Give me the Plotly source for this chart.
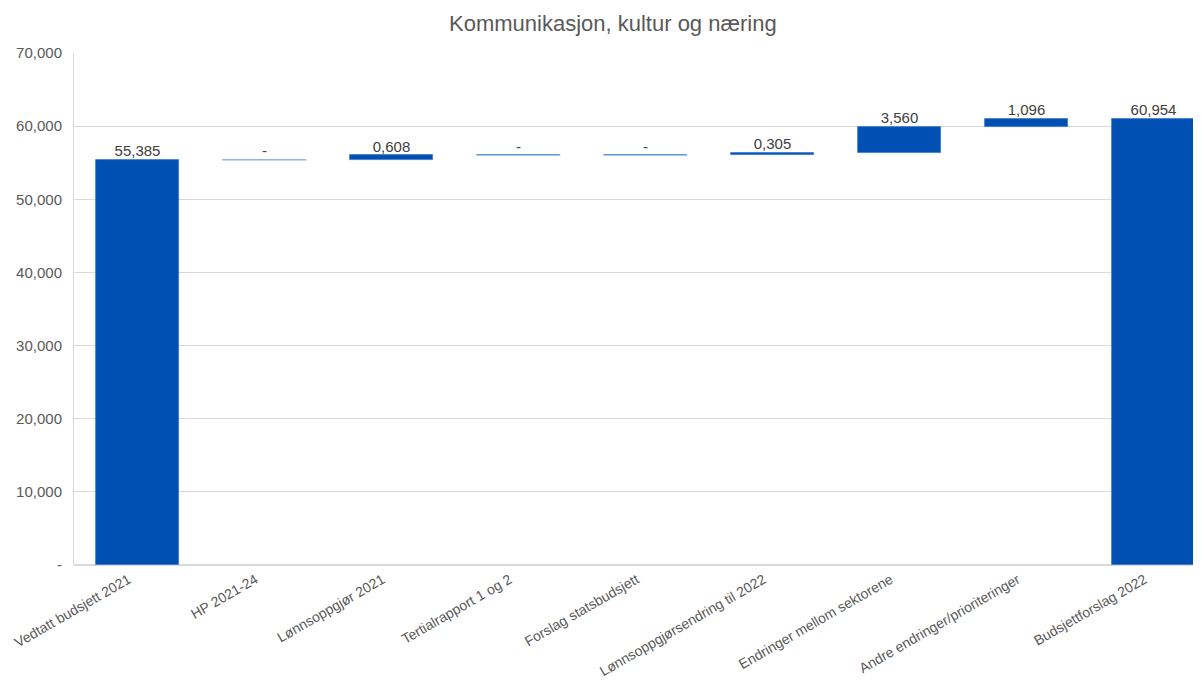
import plotly.graph_objs as go

categories = ['Vedtatt budsjett 2021', 'HP 2021-24', 'Lønnsoppgjør 2021',
              'Tertialrapport 1 og 2', 'Forslag statsbudsjett',
              'Lønnsoppgjørsendring til 2022', 'Endringer mellom sektorene',
              'Andre endringer/prioriteringer', 'Budsjettforslag 2022']
values = [55385, 0, 608, 0, 0, 305, 3560, 1096, 60954]
kinds = ['total', 'delta', 'delta', 'delta', 'delta', 'delta', 'delta', 'delta', 'total']
labels = ['55,385', '-', '0,608', '-', '-', '0,305', '3,560', '1,096', '60,954']

y_ticks = [0, 10000, 20000, 30000, 40000, 50000, 60000, 70000]
y_ticktext = ['-', '10,000', '20,000', '30,000', '40,000', '50,000', '60,000', '70,000']

BLUE = '#0050B4'
LIGHT = '#A8C7EC'
FONT = 'Liberation Sans, Arial, sans-serif'

# running totals for the waterfall
bases, tops = [], []
running = 0
for v, k in zip(values, kinds):
    if k == 'total':
        bases.append(0)
        running = v
    else:
        bases.append(running)
        running += v
    tops.append(bases[-1] + v)

fig = go.Figure()
fig.add_trace(go.Bar(
    x=categories, y=values, base=bases,
    width=0.66,
    marker=dict(color=BLUE, line=dict(color='#3D78C8', width=0.8)),
    hoverinfo='skip'
))

# zero changes are drawn as a thin light line
zero_x = [c for c, v in zip(categories, values) if v == 0]
zero_y = [b for b, v in zip(bases, values) if v == 0]
fig.add_trace(go.Scatter(
    x=zero_x, y=zero_y, mode='markers',
    marker=dict(symbol='line-ew', size=60,
                line=dict(color=LIGHT, width=1.3)),
    hoverinfo='skip'
))

fig.add_trace(go.Scatter(
    x=categories, y=tops, mode='text', text=labels,
    textposition='top center',
    textfont=dict(family=FONT, size=15, color='#404040'),
    hoverinfo='skip'
))

# page body has an 8px margin, so the figure is 8px smaller than the window
fig.update_layout(
    title=dict(text='Kommunikasjon, kultur og næring', x=0.507, xanchor='center',
               y=0.978, yanchor='middle',
               font=dict(family=FONT, size=22, color='#595959')),
    width=1193, height=683,
    margin=dict(l=66, r=0, t=45, b=126),
    plot_bgcolor='white', paper_bgcolor='white',
    showlegend=False, bargap=0,
    font=dict(family=FONT, size=15, color='#595959'),
)
fig.update_xaxes(range=[-0.5, 8.374], tickangle=-30, showgrid=False,
                 showline=False, ticks='', ticklabelshift=-9, ticklabelstandoff=3,
                 automargin=False, tickfont=dict(size=14, color='#595959'))
fig.update_yaxes(range=[0, 70000], tickvals=y_ticks, ticktext=y_ticktext,
                 gridcolor='#D9D9D9', gridwidth=1, zeroline=True,
                 zerolinecolor='#D9D9D9', showline=True, linecolor='#D9D9D9',
                 ticks='', ticklabelstandoff=8, automargin=False,
                 tickfont=dict(size=15, color='#595959'))

fig.write_html('out.html')
